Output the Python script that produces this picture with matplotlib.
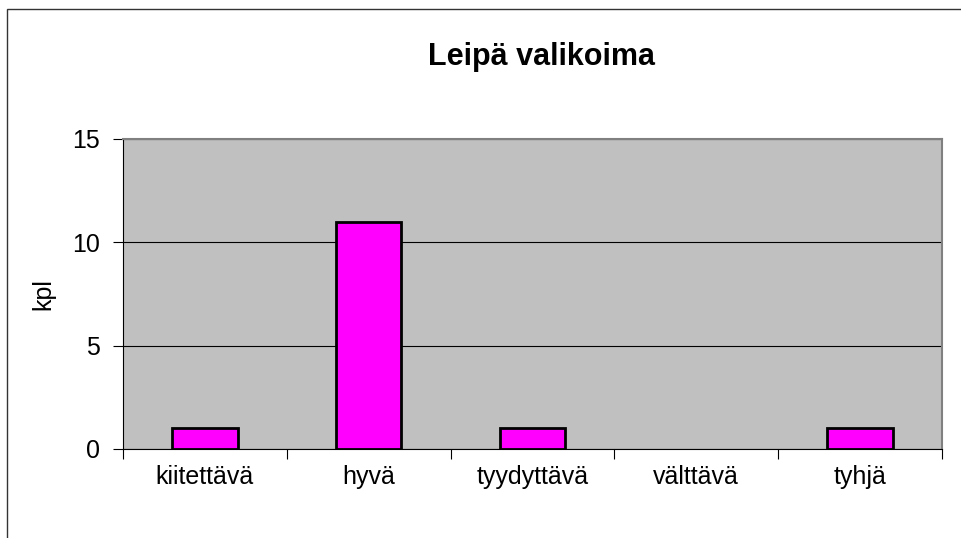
import matplotlib
matplotlib.use("Agg")
import matplotlib.pyplot as plt
from matplotlib.patches import Rectangle

categories = ["kiitettävä", "hyvä", "tyydyttävä", "välttävä", "tyhjä"]
counts = [1, 11, 1, 0, 1]
yticks = [0, 5, 10, 15]

plt.rcParams['font.family'] = ['Liberation Sans', 'DejaVu Sans']

fig = plt.figure(figsize=(9.61, 5.38), dpi=100)
fig.patch.set_facecolor("white")

# outer chart border (runs off the right/bottom edge)
fig.patches.append(Rectangle((7 / 961, -0.1), 1.2, 1 - 9 / 538 + 0.1,
                             transform=fig.transFigure, fill=False,
                             edgecolor="#333333", linewidth=1.0))

ax = fig.add_axes([123 / 961, 1 - 449 / 538, (942 - 123) / 961, (449 - 139) / 538])
ax.set_facecolor("#c0c0c0")

x = list(range(len(categories)))
bars = ax.bar(x, counts, width=0.4, color="#ff00ff", edgecolor="black", linewidth=2, zorder=3)
for b, v in zip(bars, counts):
    if v == 0:
        b.set_visible(False)

ax.set_xlim(-0.5, len(categories) - 0.5)
ax.set_ylim(0, 15)
ax.set_yticks(yticks)
ax.yaxis.grid(True, color="black", linewidth=0.8, zorder=1)
ax.set_axisbelow(True)

ax.set_xticks(x)
ax.set_xticklabels(categories, fontsize=18)
ax.tick_params(axis="x", length=0, pad=11.5)
# category boundary ticks
ax.set_xticks([i - 0.5 for i in range(len(categories) + 1)], minor=True)
ax.tick_params(axis="x", which="minor", length=7, width=0.8, color="black")
ax.tick_params(axis="y", labelsize=18, length=7, width=0.8, pad=9.5)

for s in ["top", "right"]:
    ax.spines[s].set_color("#808080")
    ax.spines[s].set_linewidth(1.5)
for s in ["left", "bottom"]:
    ax.spines[s].set_color("black")
    ax.spines[s].set_linewidth(0.8)

ax.set_ylabel("kpl", fontsize=18, labelpad=12)
fig.text(542 / 961, 1 - 57 / 538, "Leipä valikoima", ha="center", va="center",
         fontsize=22, fontweight="bold")

fig.savefig("out.png", dpi=100)
